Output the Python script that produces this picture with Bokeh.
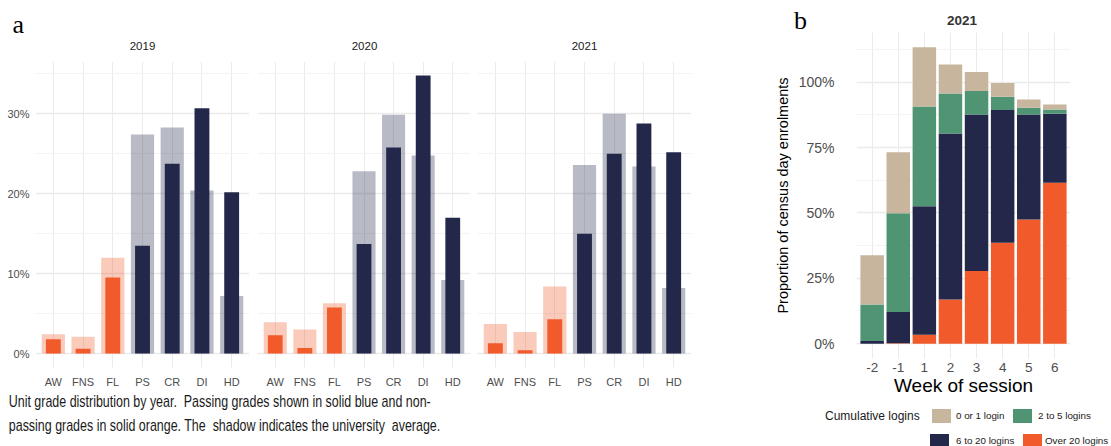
from bokeh.plotting import figure
from bokeh.layouts import row, column
from bokeh.models import (FactorRange, Range1d, FixedTicker, PrintfTickFormatter,
                          Label, Div, ColumnDataSource)
from bokeh.embed import file_html
from bokeh.resources import INLINE

# ---------------- data ----------------
grades = ["AW", "FNS", "FL", "PS", "CR", "DI", "HD"]
passing = [False, False, False, True, True, True, True]
years = ["2019", "2020", "2021"]

unit_2019 = [1.8, 0.6, 9.5, 13.5, 23.75, 30.7, 20.2]
avg_2019 = [2.4, 2.1, 12.0, 27.4, 28.3, 20.4, 7.2]
unit_2020 = [2.3, 0.7, 5.75, 13.7, 25.8, 34.8, 17.0]
avg_2020 = [3.9, 3.0, 6.3, 22.8, 29.9, 24.8, 9.2]
unit_2021 = [1.3, 0.4, 4.3, 15.0, 25.0, 28.8, 25.2]
avg_2021 = [3.7, 2.7, 8.4, 23.6, 30.0, 23.4, 8.2]

weeks = ["-2", "-1", "1", "2", "3", "4", "5", "6"]
over_20 = [0.0, 0.2, 3.4, 16.9, 27.8, 38.6, 47.5, 61.5]
six_to_20 = [1.0, 11.9, 49.2, 63.5, 59.8, 50.8, 40.1, 26.4]
two_to_5 = [14.0, 37.8, 38.1, 15.3, 9.0, 5.0, 2.6, 1.7]
zero_or_1 = [18.8, 23.3, 22.7, 11.1, 7.3, 5.3, 3.2, 1.9]
login_labels = ["0 or 1 login", "2 to 5 logins", "6 to 20 logins", "Over 20 logins"]

a_yticks = [0, 10, 20, 30]
b_yticks = [0, 25, 50, 75, 100]

# ---------------- style ----------------
NAVY = "#23284a"
ORANGE = "#f15a2a"
TAN = "#c7b59e"
GREEN = "#4f9574"
GRID = "#ebebeb"
MINOR = "#f3f3f3"
SANS = "Liberation Sans"
SERIF = "Liberation Serif"


def blank(width, height):
    """A plain canvas (frame = whole canvas) used to hold free text."""
    p = figure(width=width, height=height, x_range=Range1d(0, width),
               y_range=Range1d(height, 0), x_axis_location=None,
               y_axis_location=None, min_border=0, output_backend="svg",
               toolbar_location=None, outline_line_color=None,
               background_fill_color="white", border_fill_color="white")
    p.grid.visible = False
    return p


def facet(unit, avg, width, left, right, show_y):
    p = figure(width=width, height=329,
               x_range=FactorRange(factors=grades, range_padding=0.1,
                                   range_padding_units="absolute"),
               y_range=Range1d(-1.75, 36.55),
               min_border_left=left, min_border_right=right,
               min_border_top=0, min_border_bottom=23,
               y_axis_location="left" if show_y else None,
               output_backend="svg", toolbar_location=None,
               outline_line_color=None, background_fill_color="white",
               border_fill_color="white")
    colors = [NAVY if ok else ORANGE for ok in passing]
    src = ColumnDataSource(dict(grade=grades, unit=unit, avg=avg, color=colors))
    p.vbar(x="grade", top="avg", width=0.78, fill_color="color", fill_alpha=0.32,
           line_color=None, source=src)
    p.vbar(x="grade", top="unit", width=0.5, fill_color="color", line_color=None,
           source=src)
    p.ygrid.ticker = FixedTicker(ticks=a_yticks, minor_ticks=[5, 15, 25, 35])
    p.ygrid.grid_line_color = GRID
    p.ygrid.grid_line_width = 1.3
    p.ygrid.minor_grid_line_color = MINOR
    p.ygrid.minor_grid_line_width = 1
    p.xgrid.grid_line_color = GRID
    p.xgrid.grid_line_width = 1
    xa = p.xaxis[0]
    xa.axis_line_color = None
    xa.major_tick_line_color = None
    xa.major_tick_out = 0
    xa.major_tick_in = 0
    xa.minor_tick_line_color = None
    xa.major_label_standoff = 8
    xa.major_label_text_font = SANS
    xa.major_label_text_font_size = "11px"
    xa.major_label_text_color = "#4d4d4d"
    if show_y:
        ya = p.yaxis[0]
        ya.ticker = FixedTicker(ticks=a_yticks)
        ya.formatter = PrintfTickFormatter(format="%d%%")
        ya.axis_line_color = None
        ya.major_tick_line_color = None
        ya.major_tick_out = 0
        ya.major_tick_in = 0
        ya.minor_tick_line_color = None
        ya.major_label_standoff = 6
        ya.major_label_text_font = SANS
        ya.major_label_text_font_size = "11px"
        ya.major_label_text_color = "#4d4d4d"
    return p


# ---------------- panel a ----------------
head_a = blank(740, 61)
head_a.add_layout(Label(x=12, y=24, text="a", text_align="left",
                        text_baseline="middle", text_font=SERIF,
                        text_font_size="26px", text_color="#000000"))
for yr, cx in zip(years, [142, 364, 584]):
    head_a.add_layout(Label(x=cx, y=45, text=yr, text_align="center",
                            text_baseline="middle", text_font=SANS,
                            text_font_size="11.5px", text_color="#1a1a1a"))

a1 = facet(unit_2019, avg_2019, 253, 35, 4, True)
a2 = facet(unit_2020, avg_2020, 220, 4, 3, False)
a3 = facet(unit_2021, avg_2021, 267, 4, 49, False)

caption = Div(
    text=("<div style=\"font-family:'Liberation Sans',Arial,sans-serif;"
          "font-size:17px;line-height:24px;color:#1a1a1a;"
          "padding:0 0 0 12px;white-space:nowrap;"
          "transform:scaleX(0.732);transform-origin:0 0;\">"
          "Unit grade distribution by year.&nbsp; Passing grades shown in solid blue and non-<br>"
          "passing grades in solid orange. The&nbsp; shadow indicates the university&nbsp; average."
          "</div>"),
    width=740, height=56, margin=0)

# ---------------- panel b ----------------
head_b = Div(
    text=("<div style=\"position:relative;width:371px;height:32px;\">"
          "<span style=\"position:absolute;left:54px;top:8px;line-height:26px;"
          "font-family:'Liberation Serif',serif;font-size:26px;color:#000;\">b</span>"
          "<span style=\"position:absolute;left:222px;top:14px;line-height:13.5px;"
          "transform:translateX(-50%);font-family:'Liberation Sans',Arial,sans-serif;"
          "font-size:13.5px;font-weight:bold;color:#333;\">2021</span>"
          "</div>"),
    width=371, height=32, margin=0)

pb = figure(width=371, height=368,
            x_range=FactorRange(factors=weeks, range_padding=0.1,
                                range_padding_units="absolute"),
            y_range=Range1d(-5.67, 119.0),
            min_border_left=116, min_border_right=41,
            min_border_top=0, min_border_bottom=42,
            output_backend="svg", toolbar_location=None,
            outline_line_color=None, background_fill_color="white",
            border_fill_color="white")
srcb = ColumnDataSource(dict(week=weeks, over_20=over_20, six_to_20=six_to_20,
                             two_to_5=two_to_5, zero_or_1=zero_or_1))
rs = pb.vbar_stack(["over_20", "six_to_20", "two_to_5", "zero_or_1"], x="week",
                   width=0.9, fill_color=[ORANGE, NAVY, GREEN, TAN],
                   line_color=None, source=srcb)
pb.ygrid.ticker = FixedTicker(ticks=b_yticks, minor_ticks=[12.5, 37.5, 62.5, 87.5, 112.5])
pb.ygrid.grid_line_color = GRID
pb.ygrid.grid_line_width = 1.3
pb.ygrid.minor_grid_line_color = MINOR
pb.xgrid.grid_line_color = GRID
xb = pb.xaxis[0]
xb.axis_line_color = None
xb.major_tick_line_color = None
xb.major_tick_out = 0
xb.major_tick_in = 0
xb.minor_tick_line_color = None
xb.major_label_standoff = 4
xb.major_label_text_font = SANS
xb.major_label_text_font_size = "13.5px"
xb.major_label_text_color = "#4d4d4d"
xb.axis_label = "Week of session"
xb.axis_label_standoff = 0
xb.axis_label_text_font = SANS
xb.axis_label_text_font_size = "19px"
xb.axis_label_text_font_style = "normal"
xb.axis_label_text_color = "#000000"
yb = pb.yaxis[0]
yb.ticker = FixedTicker(ticks=b_yticks)
yb.formatter = PrintfTickFormatter(format="%d%%")
yb.axis_line_color = None
yb.major_tick_line_color = None
yb.major_tick_out = 0
yb.major_tick_in = 0
yb.minor_tick_line_color = None
yb.major_label_standoff = 22
yb.major_label_text_font = SANS
yb.major_label_text_font_size = "14px"
yb.major_label_text_color = "#4d4d4d"
yb.axis_label = "Proportion of census day enrolments"
yb.axis_label_standoff = 5
yb.axis_label_text_font = SANS
yb.axis_label_text_font_size = "14.5px"
yb.axis_label_text_font_style = "normal"
yb.axis_label_text_color = "#000000"

# legend below panel b (swatch colours follow the stack order above)
swatch_colors = [TAN, GREEN, NAVY, ORANGE]
swatch_pos = [(192, 9, 216), (273, 9, 298), (190, 34, 216), (283, 34, 305)]
leg_html = ["<div style=\"position:relative;width:371px;height:46px;"
            "font-family:'Liberation Sans',Arial,sans-serif;color:#1a1a1a;\">",
            "<span style=\"position:absolute;left:85px;top:9px;font-size:12px;"
            "line-height:14px;\">Cumulative logins</span>"]
for lab, col, (sx, sy, lx) in zip(login_labels, swatch_colors, swatch_pos):
    h = 14 if sy < 20 else 12
    leg_html.append(f"<span style=\"position:absolute;left:{sx}px;top:{sy}px;"
                    f"width:19px;height:{h}px;background:{col};\"></span>")
    leg_html.append(f"<span style=\"position:absolute;left:{lx}px;top:{sy + 1}px;"
                    f"font-size:9.8px;line-height:12px;white-space:nowrap;\">{lab}</span>")
leg_html.append("</div>")
leg_b = Div(text="".join(leg_html), width=371, height=46, margin=0)

left = column(head_a, row(a1, a2, a3, spacing=0), caption, spacing=0)
right = column(head_b, pb, leg_b, spacing=0)
layout = row(left, right, spacing=0)

open("out.html", "w").write(file_html(layout, INLINE))
